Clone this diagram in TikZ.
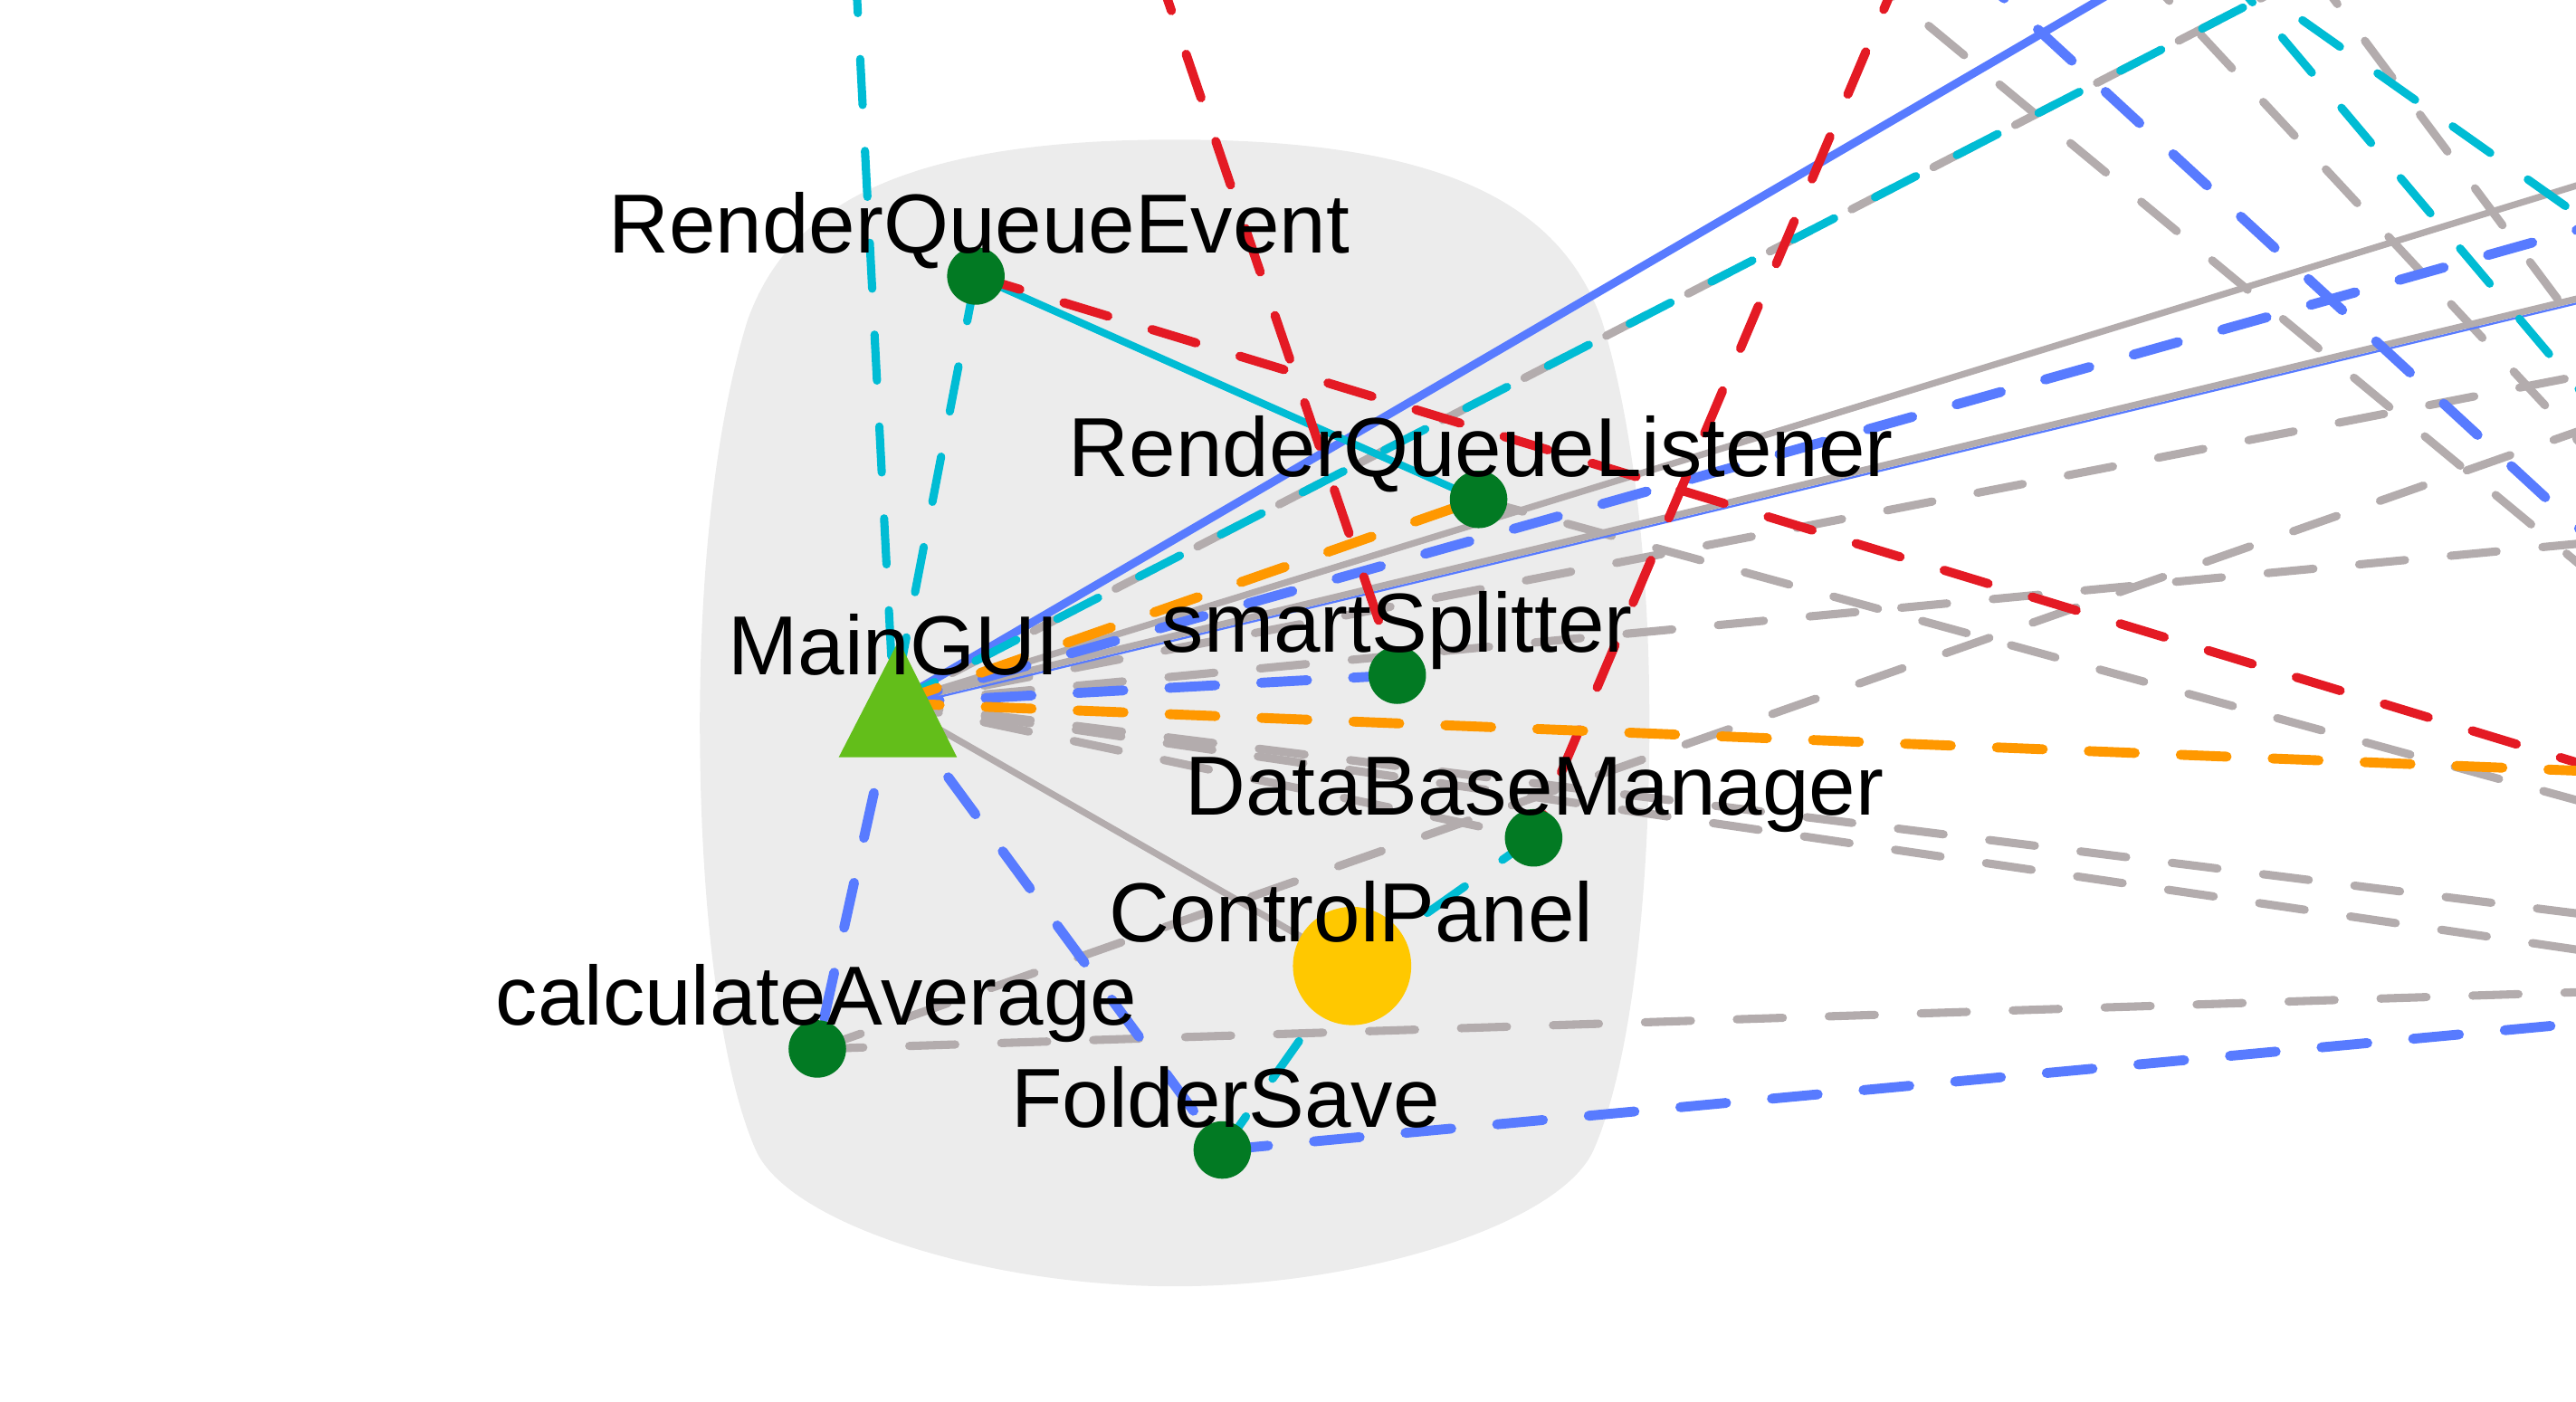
\documentclass[tikz,border=0pt]{standalone}
\usepackage{fontspec}
\setmainfont{Liberation Sans}
\definecolor{cblue}{RGB}{88,123,255}
\definecolor{ccyan}{RGB}{0,188,212}
\definecolor{cred}{RGB}{228,26,36}
\definecolor{corange}{RGB}{255,152,0}
\definecolor{cgray}{RGB}{179,172,173}
\definecolor{cgreen}{RGB}{2,122,35}
\definecolor{ctri}{RGB}{99,190,26}
\definecolor{cyellow}{RGB}{255,200,0}
\definecolor{cblob}{RGB}{236,236,236}
\begin{document}
\begin{tikzpicture}[x=1pt,y=-1pt,
  dot/.style={circle,fill=cgreen,minimum size=35pt,inner sep=0pt},
  bigdot/.style={circle,fill=cyellow,minimum size=72pt,inner sep=0pt},
  lbl/.style={anchor=base,inner sep=0pt,font=\fontsize{51pt}{60pt}\selectfont},
  dsh/.style={dash pattern=on 28pt off 28pt,line cap=round},
  gdash/.style={dsh,draw=cgray,line width=5pt},
  bdash/.style={dsh,draw=cblue,line width=6pt},
  cdash/.style={dsh,draw=ccyan,line width=5pt},
  rdash/.style={dsh,draw=cred,line width=5.5pt},
  odash/.style={dsh,draw=corange,line width=6pt},
  gsolid/.style={draw=cgray,line width=4pt},
  bthin/.style={draw=cblue,line width=1.3pt},
  bsolid/.style={draw=cblue,line width=5pt},
  csolid/.style={draw=ccyan,line width=4.5pt}]
\useasboundingbox (0,0) rectangle (1568,853);
\begin{scope}
\clip (0,0) rectangle (1568,853);
% background group
\fill[cblob] (715,85) .. controls (880,85) and (950,125) .. (975,195)
  .. controls (995,260) and (1004,350) .. (1004,440)
  .. controls (1004,560) and (990,655) .. (970,700)
  .. controls (950,745) and (830,783) .. (715,783)
  .. controls (600,783) and (480,745) .. (460,700)
  .. controls (440,655) and (426,560) .. (426,440)
  .. controls (426,350) and (435,260) .. (455,195)
  .. controls (480,125) and (550,85) .. (715,85) -- cycle;
% node centres
\coordinate (MG) at (544,428);
\coordinate (RQE) at (594,168);
\coordinate (RQL) at (900,304);
\coordinate (SS) at (850.5,411);
\coordinate (DBM) at (933.5,510);
\coordinate (CP) at (823,588);
\coordinate (CA) at (497.5,638.5);
\coordinate (FS) at (744,700);
% free ends
\coordinate (tA) at (520.7,-20);
\coordinate (tE) at (704,-20);
\coordinate (tF) at (1157.5,-20);
\coordinate (tG) at (1312,-20);
\coordinate (tH) at (1413,-20);
\coordinate (c1a) at (1355.7,-20); \coordinate (c1b) at (1590,145.5);
\coordinate (c2a) at (1353,-20);   \coordinate (c2b) at (1590,261);
\coordinate (g1a) at (1406,-20);   \coordinate (g1b) at (1590,226.5);
\coordinate (g2a) at (1301.4,-20); \coordinate (g2b) at (1590,290.7);
\coordinate (g3a) at (1130.8,-20); \coordinate (g3b) at (1590,360);
\coordinate (b1a) at (1199.3,-20); \coordinate (b1b) at (1590,340.3);
\coordinate (rD) at (1590,470.7);
\coordinate (rJ) at (1590,106.3);
\coordinate (rK) at (1590,134);
\coordinate (rL) at (1590,176.7);
\coordinate (rN) at (1590,470);
\coordinate (rR) at (1590,225);
\coordinate (rZ) at (1590,329);
\coordinate (rO1) at (1590,558.7);
\coordinate (rO2) at (1590,581.2);
\coordinate (rP) at (1590,255.3);
\coordinate (rQ) at (1590,493);
\coordinate (rS) at (1590,603.3);
\coordinate (rT) at (1590,621);
% gray dashed edges
\draw[gdash] (MG) -- (rR);
\draw[gdash] (MG) -- (rZ);
\draw[gdash] (MG) -- (rO1);
\draw[gdash] (MG) -- (rO2);
\draw[gdash] (MG) -- (DBM);
\draw[gdash] (CA) -- (rP);
\draw[gdash] (CA) -- (rS);
\draw[gdash] (RQL) -- (rQ);
\draw[gdash] (g1a) -- (g1b);
\draw[gdash] (g2a) -- (g2b);
\draw[gdash] (g3a) -- (g3b);
\draw[gdash,dash phase=16pt] (MG) -- (tH);
% gray solid edges
\draw[gsolid] (MG) -- (rJ);
\draw[bthin] ([yshift=-2.8pt]MG) -- ([yshift=-2.8pt]rL);
\draw[gsolid] (MG) -- (rL);
\draw[gsolid] (MG) -- (CP);
% blue edges
\draw[bsolid] (MG) -- (tG);
\draw[bdash] (MG) -- (rK);
\draw[bdash] (MG) -- (SS);
\draw[bdash] (MG) -- (FS);
\draw[bdash] (MG) -- (CA);
\draw[bdash] (FS) -- (rT);
\draw[bdash] (b1a) -- (b1b);
% cyan edges
\draw[cdash] (tA) -- (MG);
\draw[cdash] (RQE) -- (MG);
\draw[csolid] (RQE) -- (RQL);
\draw[cdash] (MG) -- (tH);
\draw[cdash] (CP) -- (FS);
\draw[cdash] (CP) -- (DBM);
\draw[cdash] (c1a) -- (c1b);
\draw[cdash] (c2a) -- (c2b);
% red edges
\draw[rdash] (RQE) -- (rD);
\draw[rdash] (tE) -- (SS);
\draw[rdash] (tF) -- (DBM);
% orange edges
\draw[odash] (MG) -- (RQL);
\draw[odash] (MG) -- (rN);
% nodes
\fill[ctri] (547,390) -- (582.5,461) -- (510.5,461) -- cycle;
\node[dot] (nRQE) at (RQE) {};
\node[dot] (nRQL) at (RQL) {};
\node[dot] (nSS) at (SS) {};
\node[dot] (nDBM) at (DBM) {};
\node[bigdot] (nCP) at (CP) {};
\node[dot] (nCA) at (CA) {};
\node[dot] (nFS) at (FS) {};
% labels
\node[lbl] (lRQE) at (596,154) {RenderQueueEvent};
\node[lbl] (lRQL) at (901.5,290) {RenderQueueListener};
\node[lbl] (lMG) at (544,411) {MainGUI};
\node[lbl] (lSS) at (850.5,397) {smartSplitter};
\node[lbl] (lDBM) at (934,496) {DataBaseManager};
\node[lbl] (lCP) at (822.5,573) {ControlPanel};
\node[lbl] (lCA) at (497,624) {calculateAverage};
\node[lbl] (lFS) at (746,686) {FolderSave};
\end{scope}
\end{tikzpicture}
\end{document}
